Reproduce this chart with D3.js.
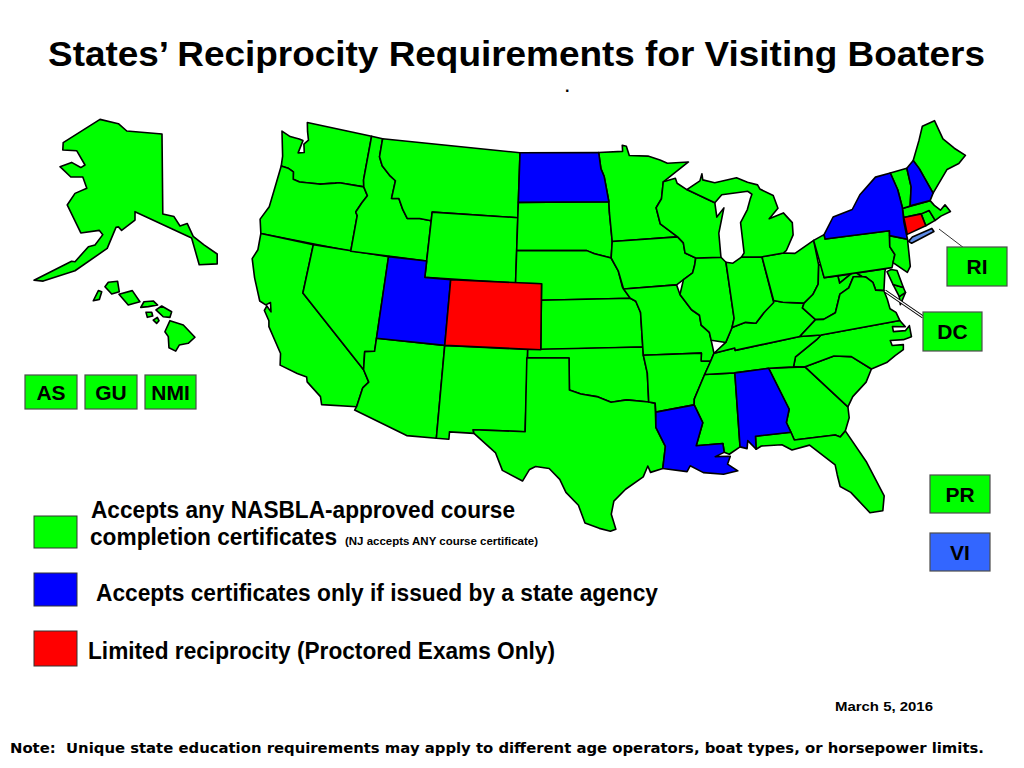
<!DOCTYPE html>
<html>
<head>
<meta charset="utf-8">
<script src="https://cdn.jsdelivr.net/npm/d3@7"></script>
<style>
  body { margin: 0; background: #fff; }
  svg { display: block; }
  text { font-family: "Liberation Sans", Arial, sans-serif; font-weight: bold; fill: #000; }
</style>
</head>
<body>
<div id="map"></div>
<script>
// state outlines, [lon, lat]
const WA = [[-122.76,49.25],[-117.03,49.15],[-117.04,46.42],[-116.92,46],[-118.98,46],[-119.3,45.93],[-120.5,45.7],[-121.2,45.65],[-122.2,45.57],[-122.76,45.65],[-122.9,46.1],[-123.4,46.25],[-124,46.28],[-124.1,46.9],[-124.7,48.38],[-123.9,48.17],[-123.1,48.15],[-122.75,48.1],[-122.9,47.3],[-122.4,47.4],[-122.6,47.9],[-122.3,48.2],[-122.55,48.7]];
const OR = [[-124,46.28],[-123.4,46.25],[-122.9,46.1],[-122.76,45.65],[-122.2,45.57],[-121.2,45.65],[-120.5,45.7],[-119.3,45.93],[-118.98,46],[-116.92,46],[-116.5,45.5],[-116.85,45],[-117.2,44.4],[-117.03,44.2],[-117.03,42],[-124.2,42],[-124.55,42.84],[-124.1,43.7],[-124.05,45]];
const CA = [[-124.2,42],[-120,42],[-120,39],[-114.63,35],[-114.14,34.3],[-114.5,33.9],[-114.72,32.72],[-117.12,32.53],[-117.3,33],[-118.4,33.75],[-118.5,34.03],[-119.2,34.15],[-120.5,34.45],[-120.65,35.15],[-121.9,36.6],[-122,36.95],[-122.5,37.5],[-122.4,37.8],[-122,37.5],[-122.2,38.05],[-122.5,37.85],[-123,38],[-123.8,39.3],[-124.35,40.4],[-124.1,41]];
const NV = [[-120,42],[-114.04,42],[-114.05,36.2],[-114.75,36.1],[-114.63,35],[-120,39]];
const ID = [[-117.03,49.15],[-116.05,49.1],[-116.05,47.97],[-115.7,47.45],[-114.9,46.9],[-114.4,46.65],[-114.5,45.55],[-113.9,45.6],[-113.45,44.95],[-113,44.45],[-112,44.53],[-111.05,44.47],[-111.05,42],[-117.03,42],[-117.03,44.2],[-117.2,44.4],[-116.85,45],[-116.5,45.5],[-116.92,46],[-117.04,46.42]];
const MT = [[-116.05,49.1],[-104.05,49],[-104.05,45],[-111.05,45],[-111.05,44.47],[-112,44.53],[-113,44.45],[-113.45,44.95],[-113.9,45.6],[-114.5,45.55],[-114.4,46.65],[-114.9,46.9],[-115.7,47.45],[-116.05,47.97]];
const WY = [[-111.05,45],[-104.05,45],[-104.05,41],[-111.05,41]];
const UT = [[-114.05,42],[-111.05,42],[-111.05,41],[-109.05,41],[-109.05,37],[-114.05,37]];
const CO = [[-109.05,41],[-102.05,41],[-102.05,37],[-109.05,37]];
const AZ = [[-114.05,37],[-109.05,37],[-109.05,31.33],[-111.07,31.33],[-114.82,32.5],[-114.72,32.72],[-114.5,33.9],[-114.14,34.3],[-114.63,35],[-114.75,36.1],[-114.05,36.2]];
const NM = [[-109.05,37],[-103,37],[-103.05,32],[-106.6,32],[-106.53,31.78],[-108.2,31.78],[-108.2,31.33],[-109.05,31.33]];
const ND = [[-104.05,49],[-97.23,49],[-97.1,48],[-96.85,47.5],[-96.56,45.94],[-104.05,45.94]];
const SD = [[-104.05,45.94],[-96.56,45.94],[-96.56,45.3],[-96.45,43.5],[-96.6,42.5],[-97.9,42.8],[-98.5,43],[-104.05,43]];
const NE = [[-104.05,43],[-98.5,43],[-97.9,42.8],[-96.6,42.5],[-96.1,41.7],[-95.85,40.7],[-95.3,40],[-102.05,40],[-102.05,41],[-104.05,41]];
const KS = [[-102.05,40],[-95.3,40],[-94.9,39.8],[-94.6,39.1],[-94.62,37],[-102.05,37]];
const OK = [[-103,37],[-94.62,37],[-94.62,36.5],[-94.43,35.4],[-94.48,33.64],[-96,33.85],[-97.1,33.75],[-98,34.1],[-99.2,34.3],[-100,34.56],[-100,36.5],[-103,36.5]];
const TX = [[-103.05,36.5],[-100,36.5],[-100,34.56],[-99.2,34.3],[-98,34.1],[-97.1,33.75],[-96,33.85],[-94.48,33.64],[-94.04,33.55],[-94.12,32.07],[-93.58,30.87],[-93.87,29.54],[-94.7,29.35],[-94.85,29.75],[-95.2,29.1],[-96.4,28.4],[-97.2,27.7],[-97.4,26.9],[-97.15,25.96],[-97.5,25.85],[-98.2,26.05],[-99.1,26.4],[-99.5,27.5],[-100.3,28.3],[-100.7,29.1],[-101.4,29.77],[-102.3,29.88],[-102.7,29.7],[-103.15,28.98],[-104.5,29.6],[-105,30.65],[-106.53,31.78],[-106.6,32],[-103.05,32]];
const MN = [[-97.23,49],[-95.15,49],[-95.15,49.38],[-94.8,49.3],[-94.6,48.72],[-93,48.6],[-92,48.3],[-91.4,48.05],[-89.6,48],[-91.91,46.94],[-92.2,45.91],[-92.71,45.39],[-92.5,44.39],[-91.22,43.5],[-96.45,43.5],[-96.56,45.3],[-96.56,45.94],[-96.85,47.5],[-97.1,48]];
const IA = [[-96.45,43.5],[-91.22,43.5],[-90.82,43.1],[-90.78,42.48],[-89.99,42.11],[-90.14,41.69],[-90.37,41.23],[-91.13,40.88],[-91.7,40.6],[-95.77,40.58],[-96.1,41.7],[-96.6,42.5]];
const MO = [[-95.77,40.58],[-91.7,40.6],[-91.52,40],[-90.78,39.01],[-90.24,38.63],[-90.2,38.02],[-89.67,37.53],[-89.61,37.04],[-89.53,36.24],[-89.84,35.78],[-90.52,35.85],[-90.43,36.33],[-94.62,36.5],[-94.62,37],[-94.6,39.1],[-94.9,39.8],[-95.3,40]];
const AR = [[-94.62,36.5],[-90.43,36.33],[-90.52,35.85],[-89.84,35.78],[-90.38,35.02],[-91.3,33.6],[-91.35,33.25],[-94.04,33],[-94.04,33.55],[-94.48,33.64],[-94.43,35.4]];
const LA = [[-94.04,33],[-91.35,33.25],[-90.9,32.12],[-91.51,30.76],[-89.71,30.73],[-89.7,30.18],[-90.33,29.98],[-89.33,29.9],[-89.58,29.44],[-88.96,28.96],[-89.92,28.85],[-91.23,29.08],[-92.05,29.57],[-92.29,29.23],[-93.87,29.54],[-93.58,30.87],[-94.12,32.07]];
const MS = [[-90.38,35.02],[-88.24,34.91],[-88.6,30.4],[-89.38,30.03],[-89.7,30.18],[-89.71,30.73],[-91.51,30.76],[-90.9,32.12],[-91.35,33.25],[-91.3,33.6]];
const AL = [[-88.24,34.91],[-85.82,34.9],[-84.91,32.25],[-85.26,31.48],[-85.07,30.85],[-87.47,30.92],[-87.56,30.13],[-88.03,30.72],[-88.15,30.24],[-88.6,30.4]];
const GA = [[-85.82,34.9],[-83.27,34.63],[-80.94,31.76],[-81.02,31.09],[-81.47,30.35],[-81.88,30.05],[-82.19,30.22],[-84.94,30.35],[-85.07,30.85],[-85.26,31.48],[-84.91,32.25]];
const FL = [[-87.47,30.92],[-85.07,30.85],[-84.94,30.35],[-82.19,30.22],[-81.88,30.05],[-81.47,30.35],[-80.55,28.21],[-79.95,25.97],[-80.25,25.09],[-81.07,25.13],[-81.98,26.59],[-82.57,27.06],[-82.6,27.81],[-82.6,28.43],[-84,29.89],[-85.21,29.77],[-85.81,30.18],[-87.18,30.28],[-87.56,30.13]];
const SC = [[-83.27,34.63],[-81.11,34.95],[-79.91,34.7],[-78.75,33.71],[-79.33,33],[-80.46,32.31],[-80.94,31.76]];
const NC = [[-84.07,34.75],[-83.27,34.63],[-81.11,34.95],[-79.91,34.7],[-78.75,33.71],[-77.6,33.88],[-76.9,34.17],[-76.23,34.4],[-76.13,34.7],[-76.91,34.81],[-76.95,35.13],[-76.03,34.99],[-75.42,35.04],[-75.34,35.72],[-75.72,35.49],[-76.56,35.61],[-76.53,35.92],[-75.64,35.72],[-75.9,36.17],[-81.68,36.35],[-82.09,36.11],[-83.8,35.32]];
const TN = [[-90.38,35.02],[-88.24,34.91],[-85.82,34.9],[-84.07,34.75],[-83.8,35.32],[-82.09,36.11],[-81.68,36.35],[-83.21,36.5],[-87.99,36.26],[-87.99,36.4],[-89.53,36.24],[-89.84,35.78]];
const KY = [[-89.53,36.24],[-87.99,36.4],[-87.99,36.26],[-83.21,36.5],[-81.83,37.33],[-82.6,38.17],[-82.4,38.44],[-83.94,38.72],[-84.6,38.91],[-85.48,38.27],[-86.19,37.72],[-86.93,37.86],[-87.97,37.66],[-88.58,36.81]];
const IL = [[-89.99,42.11],[-88.03,41.97],[-87.7,41.63],[-87.72,38.19],[-87.97,37.66],[-88.58,36.81],[-89.61,37.04],[-89.67,37.53],[-90.2,38.02],[-90.24,38.63],[-90.78,39.01],[-91.52,40],[-91.13,40.88],[-90.37,41.23],[-90.14,41.69]];
const IN = [[-87.7,41.63],[-87.18,41.52],[-86.45,41.81],[-84.87,41.64],[-84.62,38.79],[-85.48,38.27],[-86.19,37.72],[-86.93,37.86],[-87.97,37.66],[-87.72,38.19]];
const OH = [[-84.87,41.64],[-83.18,41.65],[-82.3,41.5],[-80.66,42.06],[-80.71,40.53],[-81.07,39.4],[-81.63,38.85],[-82.4,38.44],[-83.94,38.72],[-84.6,38.91]];
const WV = [[-80.71,40.53],[-81.07,39.4],[-81.63,38.85],[-82.4,38.44],[-82.6,38.17],[-81.83,37.33],[-81.25,37.25],[-80.3,37.5],[-79.65,38.55],[-78.9,38.8],[-78.35,39.4],[-77.75,39.3],[-78.2,39.7],[-79.48,39.2],[-79.48,39.65],[-80.52,39.72],[-80.52,40.53]];
const VA = [[-83.21,36.5],[-81.68,36.35],[-75.9,36.17],[-76,36.7],[-76.35,37],[-76.35,37.6],[-76.42,38.15],[-77,38.3],[-77.05,38.8],[-77.45,39.2],[-77.75,39.3],[-78.35,39.4],[-78.9,38.8],[-79.65,38.55],[-80.3,37.5],[-81.25,37.25],[-81.83,37.33]];
const VA2 = [[-75.45,37.57],[-74.92,37.72],[-75.54,37.09]];
const MD = [[-79.48,39.65],[-75.85,39.41],[-75.96,39.25],[-76.42,38.15],[-77,38.3],[-77.05,38.8],[-77.45,39.2],[-77.75,39.3],[-78.2,39.7],[-79.48,39.2]];
const MD2 = [[-75.64,38.37],[-74.97,38.04],[-74.92,37.72],[-75.45,37.57]];
const DE = [[-75.81,39.22],[-75.47,39.28],[-75.06,39.13],[-74.97,38.04],[-75.64,38.37]];
const PA = [[-80.66,42.06],[-79.76,42.27],[-79.76,42],[-74.74,41.58],[-75.07,40.64],[-74.87,40.1],[-75.36,39.38],[-80.52,39.72]];
const NY = [[-79.76,42],[-79.76,42.27],[-78.73,43.2],[-77.1,43.38],[-76.19,44.14],[-74.57,44.94],[-73.31,44.94],[-73.15,43.84],[-73.23,42.73],[-73.47,41.83],[-73.6,40.79],[-74.84,41.29],[-74.74,41.58]];
const LI = [[-73.57,40.65],[-73.39,40.49],[-71.47,40.8],[-71.55,41.01],[-73.19,40.84]];
const NJ = [[-74.84,41.29],[-73.6,40.79],[-74.01,39.17],[-74.36,38.86],[-75.18,39.66],[-74.87,40.1],[-75.07,40.64]];
const CT = [[-73.36,42.12],[-71.98,42.04],[-71.93,41.27],[-73.5,41.08]];
const RI = [[-71.98,42.04],[-71.3,42.1],[-71.1,41.42],[-71.93,41.27]];
const MA = [[-73.36,42.12],[-73.25,42.67],[-70.97,42.65],[-70.78,42.3],[-70.45,41.91],[-69.97,42.14],[-69.75,41.65],[-70.57,41.56],[-71.1,41.42],[-71.3,42.1],[-71.98,42.04]];
const VT = [[-73.31,44.94],[-71.9,44.94],[-72.05,43.78],[-72.6,42.69],[-73.25,42.67],[-73.23,42.73],[-73.15,43.84]];
const NH = [[-71.9,44.94],[-71.2,45.28],[-70.95,44.7],[-70.55,43.03],[-70.97,42.65],[-72.6,42.69],[-72.05,43.78]];
const ME = [[-71.2,45.28],[-70.18,46.36],[-69.52,47.11],[-68.39,47.2],[-68.27,45.98],[-67.67,45.22],[-67.03,44.59],[-67.78,44.25],[-68.84,44.14],[-70.55,43.03],[-70.95,44.7]];
const WI = [[-91.91,46.94],[-90.87,47.08],[-90.77,46.77],[-90.03,46.32],[-87.88,45.31],[-87.89,44.43],[-87.21,44.93],[-87.92,43.44],[-88.03,41.97],[-89.99,42.11],[-90.78,42.48],[-90.82,43.1],[-91.22,43.5],[-92.5,44.39],[-92.71,45.39],[-92.2,45.91]];
const MI = [[-90.03,46.32],[-88.85,46.76],[-88.6,47.18],[-88.6,46.8],[-87.64,46.53],[-85.78,46.65],[-84.94,46.27],[-84.16,46.01],[-84.04,45.74],[-83.06,45.21],[-82.89,44.39],[-83.75,43.85],[-82.54,44.05],[-82,43.37],[-82.14,42.63],[-82.9,41.78],[-83.18,41.65],[-84.87,41.64],[-86.45,41.81],[-86.19,42.04],[-86.07,43.89],[-85.35,44.62],[-84.98,45.21],[-84.76,45.5],[-85.05,45.72],[-87.22,45.74],[-87.88,45.31]];
const AK = [[-156.5,71.3],[-151.9,70.8],[-149.8,69.95],[-141,69.6],[-140.8,60.3],[-138,60],[-136.5,58.9],[-134.7,59.2],[-133.2,57.7],[-130.5,56.7],[-127.2,55.65],[-127.2,54.5],[-131.7,54.4],[-133.6,57.5],[-147.75,60.57],[-147.75,59.6],[-151.1,58.4],[-151.9,58.8],[-152.5,58.75],[-154.7,56.3],[-162.75,53.7],[-170.7,52.5],[-173,52.6],[-163.6,54.8],[-162.75,54.75],[-159.4,56.5],[-157.75,56.7],[-155.8,57.9],[-156.7,58.4],[-161.3,58.1],[-164.7,61.35],[-162.75,62.7],[-159.8,63.3],[-160.8,64.6],[-163.8,64.6],[-166.5,65.8],[-163.6,66.3],[-161.3,65.7],[-160.25,66],[-162.3,67.65],[-165.8,67.75],[-165.7,68.6]];
const hiNiihau = [[-160.64,21.36],[-160.34,21.88],[-160.14,21.82],[-160.28,21.43]];
const hiKauai = [[-159.95,22.08],[-159.75,22.31],[-159.2,22.36],[-159.1,21.82],[-159.55,21.71]];
const hiOahu = [[-159.12,21.69],[-158.33,21.88],[-157.88,21.31],[-158.57,21.14]];
const hiMolokai = [[-157.83,21.02],[-157.64,21.31],[-157.09,21.35],[-156.83,21.14],[-157.38,21.06]];
const hiMaui = [[-156.93,20.89],[-156.59,21.09],[-156,20.8],[-156.1,20.51],[-156.5,20.54]];
const hiLanai = [[-157.52,20.77],[-157.18,20.77],[-157.12,20.58],[-157.44,20.51]];
const hiKahoolawe = [[-157.09,20.37],[-156.85,20.51],[-156.75,20.34],[-156.89,20.2]];
const hiBig = [[-156.1,20.34],[-155.31,20.12],[-154.62,19.49],[-155.02,19.18],[-155.55,19.09],[-155.76,18.78],[-156.16,18.95],[-156.2,19.52],[-156.4,19.77]];

// reciprocity groups
const greenStates = [WA,OR,CA,NV,ID,MT,WY,AZ,NM,SD,NE,KS,OK,TX,MN,IA,MO,AR,MS,GA,FL,SC,NC,TN,KY,IL,IN,OH,MD,WV,VA,VA2,MD2,DE,PA,NJ,RI,MA,VT,ME,WI,MI];
const blueStates = [UT,ND,LA,AL,NY,NH];
const redStates = [CO,CT];
const lightBlueStates = [LI];
const alaska = [AK];
const hawaii = [hiNiihau,hiKauai,hiOahu,hiMolokai,hiMaui,hiLanai,hiKahoolawe,hiBig];

const territoryLabels = ["AS","GU","NMI","RI","DC","PR","VI"];
const territoryFill = ["#00ff00","#00ff00","#00ff00","#00ff00","#00ff00","#00ff00","#3366ff"];
const territoryBox = [[25,375,52,34],[85,375,52,34],[145,375,51,34],[947,247,60,39],[923,312,59,39],[930,475,60,38],[930,533,60,38]];

const legendColors = ["#00ff00","#0000ff","#ff0000"];
const legendBox = [[34,516,43,32],[34,573,43,33],[34,631,43,35]];

const ancho = 1024, alto = 768;
const svg = d3.select("#map").append("svg").attr("width", ancho).attr("height", alto);

// lower 48: albers, then stretched onto the page
const albers = d3.geoConicEqualArea().parallels([29.5,45.5]).rotate([101,0]).center([0,0]).scale(1).translate([0,0]);
const usX = d3.scaleLinear().domain([0,1]).range([555.2,1550.2]);
const usY = d3.scaleLinear().domain([0,1]).range([925.9,1860.9]);
const usLine = d3.line().x(d => usX(albers(d)[0])).y(d => usY(albers(d)[1])).curve(d3.curveLinearClosed);

// insets are plain lon/lat scales
const akX = d3.scaleLinear().domain([-141,-173]).range([162,34]);
const akY = d3.scaleLinear().domain([60.3,71.3]).range([214,119.4]);
const akLine = d3.line().x(d => akX(d[0])).y(d => akY(d[1])).curve(d3.curveLinearClosed);
const hiX = d3.scaleLinear().domain([-159.55,-155.5]).range([111.7,180.1]);
const hiY = d3.scaleLinear().domain([22.05,19.6]).range([287.3,335.1]);
const hiLine = d3.line().x(d => hiX(d[0])).y(d => hiY(d[1])).curve(d3.curveLinearClosed);

function drawStates(lista, fill, lineFn) {
  svg.append("g").selectAll("path").data(lista).enter().append("path")
    .attr("d", lineFn)
    .attr("fill", fill)
    .attr("stroke", "#000")
    .attr("stroke-width", 1.6)
    .attr("stroke-linejoin", "round");
}
drawStates(greenStates, "#00ff00", usLine);
drawStates(blueStates, "#0000ff", usLine);
drawStates(redStates, "#ff0000", usLine);
drawStates(lightBlueStates, "#5c8ae6", usLine);
drawStates(alaska, "#00ff00", akLine);
drawStates(hawaii, "#00ff00", hiLine);

// leader lines
svg.append("line").attr("x1",939).attr("y1",229).attr("x2",964).attr("y2",248).attr("stroke","#333").attr("stroke-width",1);
svg.append("line").attr("x1",885).attr("y1",291).attr("x2",923).attr("y2",317).attr("stroke","#000").attr("stroke-width",3.2);
svg.append("line").attr("x1",885).attr("y1",291).attr("x2",923).attr("y2",317).attr("stroke","#fff").attr("stroke-width",1.4);

// territory boxes
const boxes = svg.append("g").selectAll("g").data(territoryLabels).enter().append("g");
boxes.append("rect")
  .attr("x", (d,i) => territoryBox[i][0]).attr("y", (d,i) => territoryBox[i][1])
  .attr("width", (d,i) => territoryBox[i][2]).attr("height", (d,i) => territoryBox[i][3])
  .attr("fill", (d,i) => territoryFill[i]).attr("stroke", "#4d4d4d").attr("stroke-width", 1.2);
boxes.append("text")
  .attr("x", (d,i) => territoryBox[i][0] + territoryBox[i][2]/2)
  .attr("y", (d,i) => territoryBox[i][1] + territoryBox[i][3]/2 + 7.5)
  .attr("text-anchor", "middle").attr("font-size", 21).text(d => d);

// legend
svg.append("g").selectAll("rect").data(legendColors).enter().append("rect")
  .attr("x", (d,i) => legendBox[i][0]).attr("y", (d,i) => legendBox[i][1])
  .attr("width", (d,i) => legendBox[i][2]).attr("height", (d,i) => legendBox[i][3])
  .attr("fill", d => d).attr("stroke", "#333").attr("stroke-width", 1);

function texto(s, x, y, size, largo) {
  const t = svg.append("text").attr("x", x).attr("y", y).attr("font-size", size).text(s);
  if (largo) t.attr("textLength", largo).attr("lengthAdjust", "spacingAndGlyphs");
  return t;
}
texto("States\u2019 Reciprocity Requirements for Visiting Boaters", 48, 66, 34.5, 937);
texto(".", 565, 92, 16);
texto("Accepts any NASBLA-approved course", 91, 518, 23.5, 424);
texto("completion certificates", 90, 545, 23.5, 247);
texto("(NJ accepts ANY course certificate)", 345, 545, 11.5, 193);
texto("Accepts certificates only if issued by a state agency", 96, 601, 23.5, 562);
texto("Limited reciprocity (Proctored Exams Only)", 88, 659, 23.5, 467);
texto("March 5, 2016", 835, 711, 13.5, 98);
texto("Note:  Unique state education requirements may apply to different age operators, boat types, or horsepower limits.", 10, 753, 13.5, 974)
  .style("font-family", "'DejaVu Sans', sans-serif").attr("xml:space", "preserve");
</script>
</body>
</html>
